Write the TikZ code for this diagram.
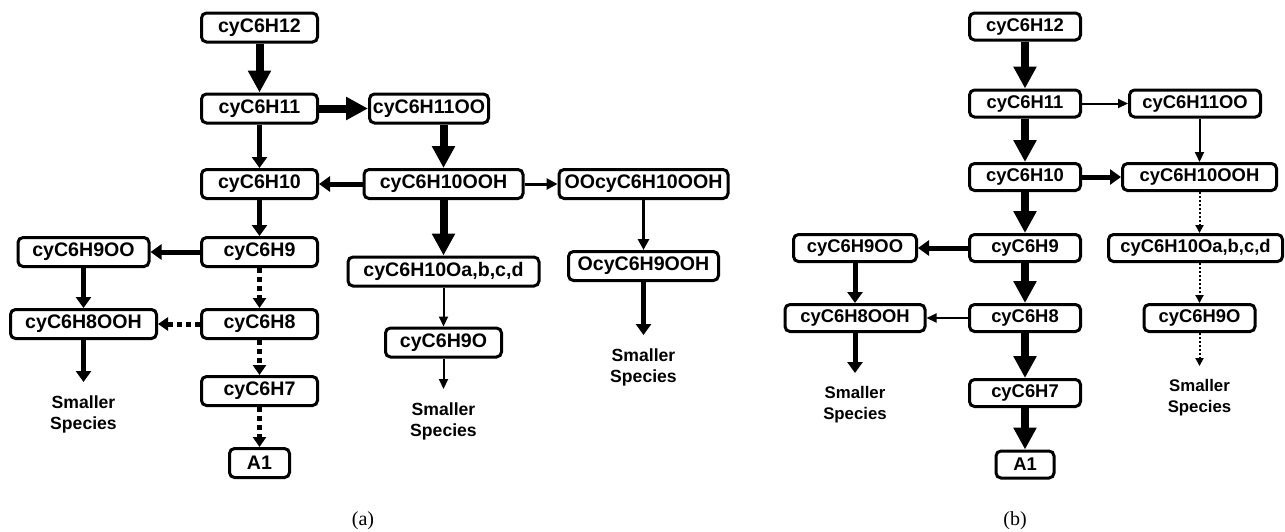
\documentclass[tikz,border=0pt]{standalone}
\usepackage{fontspec}
\setmainfont{Liberation Sans}
\newfontfamily\capfont{Liberation Serif}
\usetikzlibrary{arrows.meta}

\begin{document}
\begin{tikzpicture}[x=0.5pt,y=-0.5pt,box/.style={draw,line width=1.5pt,rounded corners=2.5pt,inner sep=0pt,minimum height=14.5pt,font=\fontsize{9.8}{11}\selectfont\bfseries},boxb/.style={box,minimum height=13.5pt,font=\fontsize{9.2}{11}\selectfont\bfseries},small/.style={align=center,anchor=north,inner sep=6.5pt,font=\fontsize{8.8}{10.5}\selectfont\bfseries},xl/.style={line width=4pt,-{Triangle[length=11pt,width=11pt]}},md/.style={line width=2.5pt,-{Triangle[length=5.5pt,width=7.5pt]}},sm/.style={line width=1.5pt,-{Triangle[length=5.5pt,width=5.5pt]}},tn/.style={line width=1pt,-{Triangle[length=5pt,width=4.5pt]}},dm/.style={line width=2.5pt,dash pattern=on 2.5pt off 2pt,-{Triangle[length=5pt,width=6.5pt]}},dt/.style={line width=1pt,dash pattern=on 1pt off 1pt,-{Triangle[length=4pt,width=4pt]}}]
\useasboundingbox (0,0) rectangle (1285,531);
% (a)
\node[box,minimum width=58pt] (a12) at (259.5,27.5) {cyC6H12};
\node[box,minimum width=58pt] (a11) at (259.5,108.5) {cyC6H11};
\node[box,minimum width=59.5pt] (a11OO) at (429,108.5) {cyC6H11OO};
\node[box,minimum width=58pt] (a10) at (259.5,184) {cyC6H10};
\node[box,minimum width=79.5pt] (a10OOH) at (443.5,184) {cyC6H10OOH};
\node[box,minimum width=84.5pt] (aOO) at (643.5,184) {OOcyC6H10OOH};
\node[box,minimum width=58pt] (a9) at (259.5,252) {cyC6H9};
\node[box,minimum width=65.5pt] (a9OO) at (83.5,252) {cyC6H9OO};
\node[box,minimum width=95.5pt] (a10Oa) at (443.5,271.5) {cyC6H10Oa,b,c,d};
\node[box,minimum width=75pt] (aO9) at (643.5,266) {OcyC6H9OOH};
\node[box,minimum width=58pt] (a9O) at (443.5,342.5) {cyC6H9O};
\node[box,minimum width=73pt] (a8OOH) at (83.5,324) {cyC6H8OOH};
\node[box,minimum width=58pt] (a8) at (259.5,324) {cyC6H8};
\node[box,minimum width=58pt] (a7) at (259.5,391) {cyC6H7};
\node[box,minimum width=30pt] (aA1) at (259.5,463) {A1};
\node[small] (s1) at (83.5,382) {Smaller\\Species};
\node[small] (s2) at (443.5,389) {Smaller\\Species};
\node[small] (s3) at (643.5,335) {Smaller\\Species};
\draw[xl] (a12)--(a11);\draw[xl] (a11)--(a11OO);\draw[md] (a11)--(a10);
\draw[xl] (a10OOH.north |- a11OO.south)--(a10OOH.north);
\draw[md] (a10OOH)--(a10);\draw[sm] (a10OOH)--(aOO);\draw[xl] (a10OOH)--(a10Oa);
\draw[sm] (aOO)--(aO9);\draw[md] (aO9)--(s3);
\draw[tn] (a10Oa)--(a9O);\draw[tn] (a9O)--(s2);
\draw[md] (a10)--(a9);\draw[md] (a9)--(a9OO);\draw[dm] (a9)--(a8);
\draw[md] (a9OO)--(a8OOH);\draw[dm] (a8)--(a8OOH);\draw[md] (a8OOH)--(s1);
\draw[dm] (a8)--(a7);\draw[dm] (a7)--(aA1);
\node[font=\capfont\fontsize{10}{12}\selectfont] (la) at (363,521) {(a)};
% (b)
\node[boxb,minimum width=55.5pt] (b12) at (1025,26.5) {cyC6H12};
\node[boxb,minimum width=55.5pt] (b11) at (1025,103.5) {cyC6H11};
\node[boxb,minimum width=65.5pt] (b11OO) at (1195,103.5) {cyC6H11OO};
\node[boxb,minimum width=55.5pt] (b10) at (1025,177) {cyC6H10};
\node[boxb,minimum width=77pt] (b10OOH) at (1199.5,177) {cyC6H10OOH};
\node[boxb,minimum width=55.5pt] (b9) at (1025,248) {cyC6H9};
\node[boxb,minimum width=61.5pt] (b9OO) at (855,248) {cyC6H9OO};
\node[boxb,minimum width=87pt] (b10Oa) at (1195.5,248) {cyC6H10Oa,b,c,d};
\node[boxb,minimum width=70pt] (b8OOH) at (855,318) {cyC6H8OOH};
\node[boxb,minimum width=55.5pt] (b8) at (1025,318) {cyC6H8};
\node[boxb,minimum width=55.5pt] (b9O) at (1199.5,318) {cyC6H9O};
\node[boxb,minimum width=55.5pt] (b7) at (1025,393) {cyC6H7};
\node[boxb,minimum width=29pt] (bA1) at (1025,464.5) {A1};
\node[small,font=\fontsize{8.4}{10.5}\selectfont\bfseries] (t1) at (855,373) {Smaller\\Species};
\node[small,font=\fontsize{8.4}{10.5}\selectfont\bfseries] (t2) at (1199.5,366) {Smaller\\Species};
\draw[xl] (b12)--(b11);\draw[tn] (b11)--(b11OO);\draw[xl] (b11)--(b10);
\draw[tn] (b10OOH.north |- b11OO.south)--(b10OOH.north);
\draw[md] (b10)--(b10OOH);\draw[xl] (b10)--(b9);\draw[md] (b9)--(b9OO);
\draw[dt] (b10OOH.south)--(b10OOH.south |- b10Oa.north);
\draw[dt] (b9O.north |- b10Oa.south)--(b9O.north);\draw[dt] (b9O)--(t2);
\draw[md] (b9OO)--(b8OOH);\draw[xl] (b9)--(b8);\draw[tn] (b8)--(b8OOH);
\draw[md] (b8OOH)--(t1);\draw[xl] (b8)--(b7);\draw[xl] (b7)--(bA1);
\node[font=\capfont\fontsize{10}{12}\selectfont] (lb) at (1015,521) {(b)};
\end{tikzpicture}
\end{document}
